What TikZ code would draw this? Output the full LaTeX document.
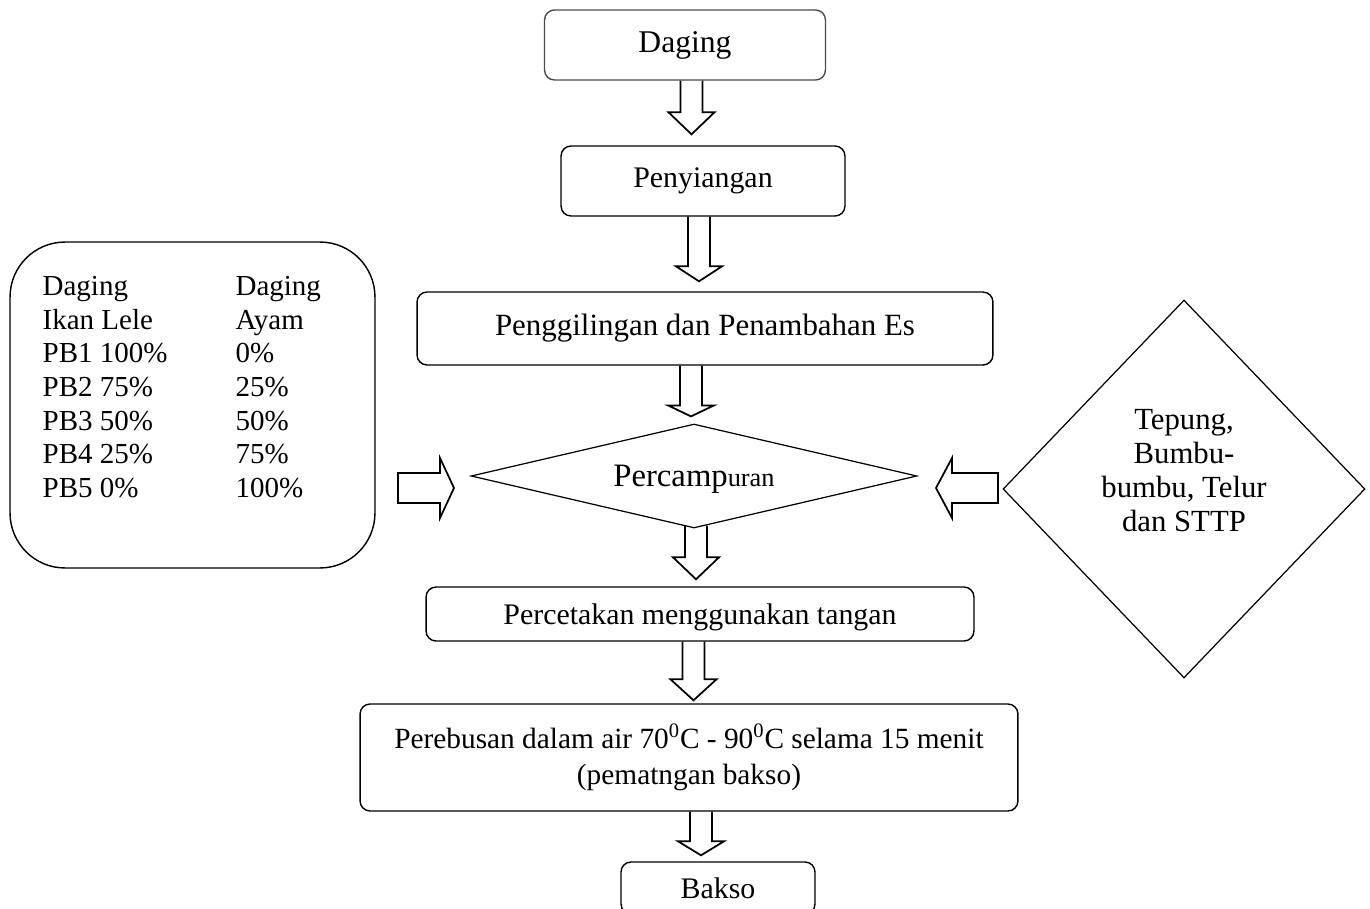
\documentclass[tikz,border=0pt]{standalone}
\usepackage{fontspec}
\setmainfont{Liberation Serif}
\usepackage{tikz}
\usetikzlibrary{shapes.geometric,calc}

% hollow block arrows: start, tip, head length
\newcommand{\blockdown}[3]{%
  \draw[blockarr] let \p1=(#1), \p2=(#2) in
    ({\x1-0.22cm},\y1) -- ({\x1-0.22cm},{\y2+(#3)}) -- ({\x1-0.46cm},{\y2+(#3)})
    -- (\x1,\y2) -- ({\x1+0.46cm},{\y2+(#3)}) -- ({\x1+0.22cm},{\y2+(#3)})
    -- ({\x1+0.22cm},\y1);}
\newcommand{\blockside}[3]{%
  \draw[blockarr] let \p1=(#1), \p2=(#2) in
    (\x1,{\y1+0.3cm}) -- ({\x2-(#3)},{\y1+0.3cm}) -- ({\x2-(#3)},{\y1+0.6cm})
    -- (\x2,\y1) -- ({\x2-(#3)},{\y1-0.6cm}) -- ({\x2-(#3)},{\y1-0.3cm})
    -- (\x1,{\y1-0.3cm}) -- cycle;}

\begin{document}
\begin{tikzpicture}[x=0.02cm, y=-0.02cm,
  box/.style={draw, rounded corners=0.2cm, align=center, inner sep=0pt, line width=0.8pt, font=\fontsize{17}{20.5}\selectfont},
  dia/.style={draw, diamond, inner sep=0pt, line width=0.7pt, font=\fontsize{17}{20.5}\selectfont},
  blockarr/.style={draw, line width=1pt, line join=miter}
]
\useasboundingbox (0,0) rectangle (1370,909);
\clip (0,0) rectangle (1370,909);

\node[box, draw=black!70, minimum width=5.62cm, minimum height=1.4cm, font=\fontsize{18}{21}\selectfont] (daging) at (685,45) {Daging};
\node[box, minimum width=5.68cm, minimum height=1.4cm] (peny) at (703,181) {Penyiangan};
\node[box, minimum width=11.52cm, minimum height=1.46cm, font=\fontsize{17.6}{21}\selectfont] (giling) at (705,328.5) {Penggilingan dan Penambahan Es};
\node[dia, aspect=4.3, minimum width=8.92cm, minimum height=2.08cm, text depth=0pt, font=\fontsize{18.6}{21}\selectfont] (campur) at (694,476) {Percamp{\fontsize{15}{17}\selectfont uran}};
\node[box, minimum width=10.96cm, minimum height=1.08cm, text depth=0pt] (cetak) at (700,614) {Percetakan menggunakan tangan};
\node[box, minimum width=13.16cm, minimum height=2.14cm, font=\fontsize{16.7}{20.5}\selectfont] (rebus) at (689,757.5) {Perebusan dalam air 70\textsuperscript{0}C - 90\textsuperscript{0}C selama 15 menit\\(pematngan bakso)};
\node[box, minimum width=3.88cm, minimum height=1.04cm] (bakso) at (718,888) {Bakso};

\node[box, rounded corners=1.1cm, minimum width=7.3cm, minimum height=6.52cm,
  label={[anchor=north west, inner sep=0pt, xshift=0.66cm, yshift=-0.6cm, font=\fontsize{16.5}{19.2}\selectfont]north west:{%
    \begin{tabular}{@{}p{3.86cm}@{}l@{}}
    Daging & Daging\\
    Ikan Lele & Ayam\\
    PB1 100\% & 0\%\\
    PB2 75\% & 25\%\\
    PB3 50\% & 50\%\\
    PB4 25\% & 75\%\\
    PB5 0\% & 100\%
    \end{tabular}}}] (komp) at (192.5,405) {};
\node[dia, aspect=1, minimum width=7.24cm, minimum height=7.56cm,
  label={[align=center, yshift=0.37cm, font=\fontsize{17.5}{19.3}\selectfont]center:Tepung,\\Bumbu-\\bumbu, Telur\\dan STTP}] (tambah) at (1184,489) {};

\coordinate (lt) at (398,488);
\coordinate (ltip) at (454,488);
\coordinate (rt) at (998,488);
\coordinate (rtip) at (936,488);

\blockdown{[xshift=0.13cm]daging.south}{[yshift=0.22cm]peny.north}{0.44cm}
\blockdown{[xshift=-0.08cm]peny.south}{[yshift=0.2cm]giling.north}{0.3cm}
\blockdown{[xshift=-0.28cm]giling.south}{[yshift=0.14cm]campur.north}{0.22cm}
\blockdown{[xshift=0.04cm,yshift=0.06cm]campur.south}{[yshift=0.14cm]cetak.north}{0.44cm}
\blockdown{[xshift=-0.13cm]cetak.south}{[yshift=0.06cm]rebus.north}{0.42cm}
\blockdown{[xshift=0.24cm]rebus.south}{[yshift=0.12cm]bakso.north}{0.28cm}
\blockside{lt}{ltip}{0.28cm}
\blockside{rt}{rtip}{-0.32cm}
\end{tikzpicture}
\end{document}
